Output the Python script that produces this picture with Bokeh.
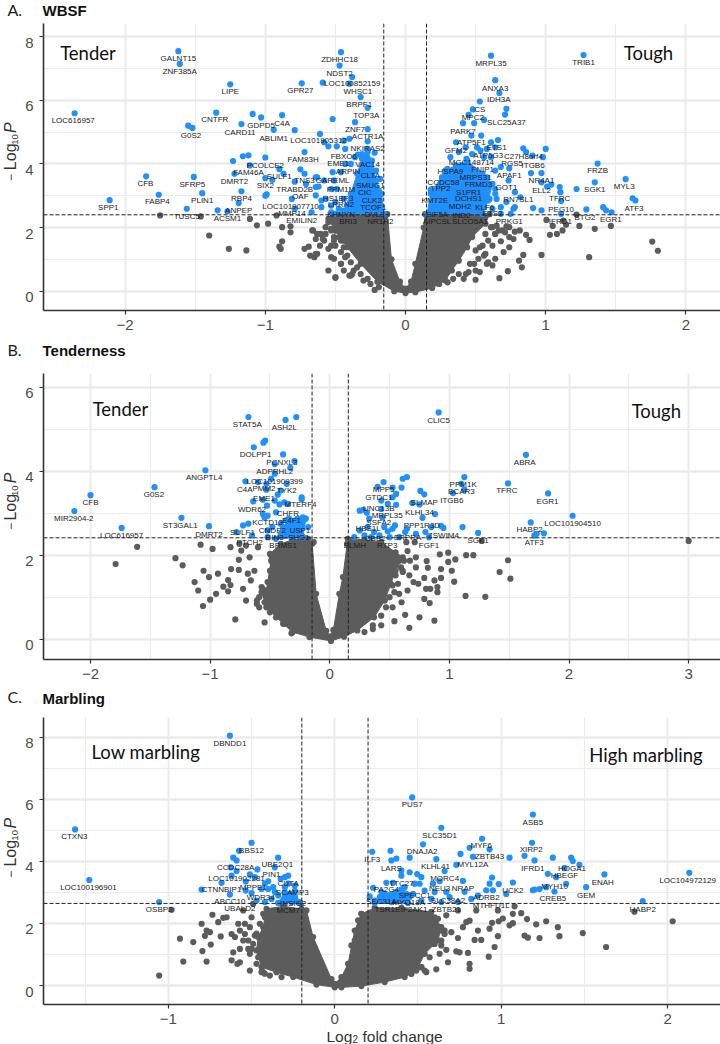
from math import pi
from bokeh.embed import file_html
from bokeh.resources import INLINE
from bokeh.layouts import column, row
from bokeh.models import ColumnDataSource, FixedTicker, LinearAxis, Range1d, Span
from bokeh.plotting import figure
from bokeh.core.properties import value

# ---------- Panel A: WBSF ----------
a_thresholds = dict(h=2.40, v=[-0.155, 0.15])
a_sides = [("Tender", -2.265, 7.47), ("Tough", 1.733, 7.47)]
a_blue = [(-1.62,7.54),(-1.61,7.14),(-1.25,6.50),(-2.36,5.59),(-1.35,5.61),(-1.55,5.20),(-1.52,5.13),(-1.17,5.25),(-1.09,5.57),(-1.03,5.46),
(-0.88,5.53),(-0.94,5.07),(-0.79,5.06),(-0.61,4.94),(-0.58,4.68),(-0.55,4.55),(-0.49,4.55),(-0.44,4.73),(-0.40,4.79),(-0.52,5.41),
(-0.74,6.53),(-0.59,6.55),(-0.46,7.51),(-0.47,7.09),(-0.38,6.73),(-0.40,6.52),(-0.32,6.10),(-0.27,5.76),(-0.36,5.31),(-0.27,5.09),
(-0.27,4.71),(-0.43,4.47),(-0.22,4.35),(-0.34,4.29),(-0.72,4.37),(-1.00,4.20),(-1.12,4.27),(-1.16,4.24),(-1.23,4.09),(-1.11,3.95),
(-1.22,3.69),(-1.51,3.59),(-1.85,3.61),(-1.76,3.03),(-1.45,3.08),(-2.11,2.86),(-1.56,2.59),(-1.34,2.54),(-1.27,2.51),(-1.19,2.77),
(-1.17,3.14),(-1.00,3.55),(-0.99,3.04),(-1.00,3.00),(-0.95,3.50),(-0.90,3.84),(-0.87,3.69),(-0.75,3.83),(-0.72,3.69),(-0.79,3.44),
(-0.71,3.37),(-0.64,3.58),(-0.62,3.29),(-0.64,3.01),(-0.60,2.85),(-0.81,2.90),(-0.79,2.59),(-0.67,2.48),(-0.60,2.64),
(-0.36,4.21),(-0.31,4.31),(-0.27,4.47),(-0.39,4.00),(-0.43,4.00),(-0.52,3.74),(-0.46,3.74),(-0.51,3.48),(-0.58,3.48),(-0.63,3.58),
(-0.64,3.27),(-0.53,3.21),(-0.49,3.21),(-0.57,2.90),(-0.50,2.80),(-0.44,2.90),(-0.53,2.69),(-0.475,2.59),(-0.53,2.48),(-0.415,2.69),
(-0.19,3.16),(-0.18,3.53),(-0.21,3.79),(-0.20,2.59),
(0.61,7.40),(1.27,7.42),(0.64,6.63),(0.67,6.23),(0.53,5.96),(0.72,5.73),(0.71,5.55),(0.48,5.71),(0.45,5.54),(0.56,5.38),(0.41,5.28),
(0.49,5.28),(0.47,4.89),(0.54,4.89),(0.66,4.75),(0.61,4.68),(0.36,4.68),(0.84,4.49),(1.00,4.47),(0.86,4.37),(0.905,4.26),(0.98,4.21),
(1.37,4.01),(1.57,3.52),(1.35,3.42),(1.62,2.92),(1.64,2.85),(0.74,3.86),(0.68,3.90),(0.895,3.71),(0.97,3.71),(0.97,3.42),(1.04,3.35),
(1.01,3.29),(1.10,3.27),(1.105,3.11),(1.22,3.21),(1.11,2.83),(0.91,2.61),(0.97,2.54),(1.11,2.43),(1.29,2.57),(1.41,2.64),(1.43,2.54),
(1.47,2.48),(0.78,2.64),(0.77,2.59),(0.75,2.43),(0.68,2.64),(0.64,3.21),(0.64,3.06),(0.58,3.11),(0.60,2.90),(0.56,2.64),(0.72,2.80),
(0.735,3.48),(0.78,3.11),(0.65,2.90),(0.82,2.95),(0.68,2.43),(0.62,2.59),(0.51,4.52),(0.535,4.42),(0.58,4.47),(0.64,4.52),(0.43,4.52),
(0.38,4.37),(0.32,4.21),(0.435,4.16),(0.475,4.31),(0.56,4.21),(0.61,4.21),(0.64,3.79),(0.58,3.58),(0.30,3.84),(0.26,3.58),(0.18,3.19),
(0.20,2.85),(0.155,2.43),(0.25,3.11)]
a_blue_mass = [[(-0.50,2.43),(-0.44,2.53),(-0.39,3.06),(-0.345,3.69),(-0.31,4.16),(-0.27,4.37),(-0.24,4.10),(-0.21,3.48),(-0.17,3.06),(-0.155,2.43)],
[(0.154,2.43),(0.18,3.06),(0.285,3.79),(0.36,3.95),(0.44,4.10),(0.55,3.69),(0.62,3.37),(0.59,2.85),(0.55,2.43)]]
a_gray = [(-1.75,2.38),(-1.46,2.35),(-1.40,1.75),(-1.26,1.33),(-1.135,1.28),(-1.11,2.27),(-1.06,2.07),(-0.98,2.12),(-0.92,2.38),(-0.88,2.01),
(-0.88,1.57),(-0.90,1.40),(-0.89,1.33),(-0.82,2.04),(-0.82,1.85),(-0.72,1.33),(-0.69,1.40),(-0.65,1.07),(-0.64,1.17),(-0.66,1.91),(-0.63,1.80),
(-0.59,1.64),(-0.57,1.80),(-0.53,1.07),(-0.50,0.42),(-0.40,0.49),(-0.38,0.54),(-0.22,0.04),(-0.61,1.43),(-0.55,1.33),(-0.53,1.96),(-0.51,1.59),
(-0.46,0.86),(-0.44,0.65),(-0.665,1.91),(-0.605,1.80),(-0.64,1.64),(-0.58,1.59),(-0.53,1.43),(-0.63,1.17),(-0.68,1.12),(-0.50,0.44),(-0.39,0.49),
(-0.55,0.65),(-0.51,1.02),(-0.46,0.86),(-0.46,1.59),(-0.44,1.38),(-0.43,1.07),(-0.37,0.65),(-0.30,0.335),
(1.005,2.24),(1.05,2.05),(1.03,1.77),(1.08,1.80),(1.12,1.91),(1.125,2.22),(1.145,2.09),(1.24,2.05),(1.22,2.41),(1.35,1.96),(1.465,2.05),
(0.97,1.14),(1.31,1.07),(1.76,1.56),(1.80,1.27),(0.83,0.75),(0.81,0.96),(0.84,1.14),(0.73,0.63),(0.67,0.41),(0.50,0.36),(0.415,0.39),(0.885,1.61),
(0.86,1.77),(0.815,1.91),(0.78,1.87),(0.77,1.64),(0.74,1.38),(0.74,2.01),(0.69,1.91),(0.72,2.03),(0.61,2.01),(0.64,1.80),(0.68,1.57),(0.62,1.43),
(0.53,1.38),(0.56,1.12),(0.70,1.23),(0.64,1.02),(0.58,0.86),(0.53,0.60),(0.45,0.60),(0.49,0.86),
(-0.55,2.17),(-0.57,2.01),(-0.53,1.91),(-0.51,1.70),(-0.475,1.70),(-0.44,1.59),(-0.50,1.43),(-0.46,1.23),(-0.415,1.12),(-0.39,0.91),(-0.345,0.75),(-0.32,0.54),(-0.27,0.39),(-0.25,0.23),(-0.19,0.13),
(0.62,2.01),(0.65,2.06),(0.665,1.91),(0.71,1.85),(0.74,1.70),(0.64,1.80),(0.57,1.80),(0.59,1.59),(0.55,1.43),(0.57,1.17),(0.50,1.28),(0.52,1.02),(0.46,0.86),(0.50,0.65),(0.43,0.54),(0.38,0.54),(0.34,0.39),(0.30,0.28),(0.24,0.23),(0.62,0.81),(0.59,0.91)]
a_gray_mass = [(0,-0.06),(-0.08,0.0),(-0.20,0.30),(-0.32,0.86),(-0.415,1.38),(-0.50,1.90),(-0.55,2.27),(-0.52,2.42),(-0.13,2.42),(-0.10,1.0),
(-0.04,0.3),(0,0.08),(0.04,0.3),(0.07,0.86),(0.13,2.0),(0.14,2.42),(0.60,2.42),(0.57,2.12),(0.475,1.70),(0.44,1.38),(0.38,0.96),(0.33,0.65),
(0.285,0.335),(0.19,0.10),(0.07,-0.03)]
a_genes = [("GALNT15",-1.62,7.32),("ZNF385A",-1.61,6.89),("LIPE",-1.25,6.26),("LOC616957",-2.37,5.35),("CNTFR",-1.36,5.39),("G0S2",-1.53,4.89),
("CARD11",-1.18,4.99),("GDPD5",-1.03,5.20),("C4A",-0.88,5.28),("ABLIM1",-0.94,4.81),("LOC101905312",-0.62,4.72),("GPR27",-0.75,6.30),
("ZDHHC18",-0.47,7.28),("NDST2",-0.47,6.84),("LOC100852159",-0.38,6.52),("WHSC1",-0.34,6.28),("BRPF1",-0.33,5.88),("TOP3A",-0.28,5.52),
("ZNF7",-0.36,5.07),("ACTR1A",-0.27,4.86),("NKIRAS2",-0.27,4.48),("FBXO6",-0.44,4.23),("FAM83H",-0.73,4.14),("EME1",-0.48,4.01),("VAC14",-0.27,3.98),
("PCOLCE2",-1.00,3.95),("ARPIN",-0.41,3.76),("FAM46A",-1.12,3.72),("SULF1",-0.90,3.59),("CLTA",-0.25,3.64),("DMRT2",-1.22,3.46),("GAREML",-0.52,3.48),
("TNS3",-0.72,3.47),("SFRP5",-1.52,3.34),("CFB",-1.855,3.37),("SIX2",-1.00,3.31),("SMUG1",-0.25,3.32),("TRABD2B",-0.79,3.20),("PPM1M",-0.46,3.20),
("CIC",-0.29,3.09),("OAF",-0.75,2.99),("HS1BP3",-0.48,2.92),("PLIN1",-1.45,2.84),("FABP4",-1.77,2.81),("RBP4",-1.17,2.90),("CLK2",-0.24,2.85),
("LRRN2",-0.46,2.71),("TCOF1",-0.23,2.63),("LOC101907710",-0.82,2.67),("SPP1",-2.12,2.62),("ANPEP",-1.19,2.55),("MMP14",-0.81,2.45),("DVL3",-0.22,2.41),
("KHNYN",-0.46,2.41),("TUSC5",-1.56,2.34),("ACSM1",-1.27,2.29),("EMILIN2",-0.74,2.22),("BRI3",-0.41,2.18),("NR1H2",-0.18,2.18),
("MRPL35",0.61,7.15),("TRIB1",1.27,7.17),("ANXA3",0.64,6.38),("IDH3A",0.665,6.01),("CS",0.53,5.71),("MPC2",0.48,5.47),("SLC25A37",0.72,5.31),
("PARK7",0.41,5.03),("ATP5F1",0.47,4.67),("ETS1",0.65,4.52),("GFM2",0.36,4.42),("ATP5G3",0.59,4.25),("C27H8orf4",0.84,4.23),("RGS5",0.76,4.02),
("ITGB6",0.91,3.95),("MGC148714",0.47,4.04),("FNIP1",0.55,3.81),("HSPA9",0.32,3.77),("APAF1",0.74,3.62),("MRPS31",0.50,3.56),("NR4A1",0.97,3.48),
("CCDC58",0.27,3.43),("FRMD3",0.52,3.34),("TPP2",0.25,3.24),("GOT1",0.72,3.26),("ELL2",0.97,3.17),("SGK1",1.35,3.20),("FRZB",1.37,3.78),("MYL3",1.56,3.28),
("S1PR1",0.45,3.11),("TFRC",1.10,2.90),("RN7SL1",0.805,2.89),("DCHS1",0.45,2.91),("KMT2E",0.21,2.85),("MDH2",0.39,2.65),("KLF6",0.565,2.62),("ATF3",1.63,2.59),
("PEG10",1.11,2.57),("EIF5A",0.225,2.42),("ETS2",0.62,2.43),("IND2",0.40,2.38),("BTG2",1.28,2.32),("EGR1",1.465,2.25),("PRKG1",0.74,2.18),("IFRD1",1.105,2.18),
("AIPCSL",0.225,2.18),("SLCO5A1",0.46,2.18)]

# ---------- Panel B: Tenderness ----------
b_thresholds = dict(h=2.414, v=[-0.148, 0.155])
b_sides = [("Tender", -1.75, 5.49), ("Tough", 2.73, 5.44)]
b_blue = [(-0.68,5.29),(-0.37,5.22),(-0.28,5.29),(-0.54,4.73),(-0.555,4.68),(-0.635,4.57),(-0.39,4.40),(-0.46,4.17),(-0.295,4.24),(-0.33,4.08),(-1.04,4.02),
(-0.46,3.94),(-0.49,3.82),(-0.705,3.76),(-0.60,3.74),(-0.53,3.70),(-0.36,3.70),(-1.465,3.62),(-2.00,3.43),(-0.53,3.56),(-0.435,3.44),(-0.41,3.54),(-0.235,3.38),
(-0.235,3.33),(-0.56,3.32),(-0.64,3.28),(-0.46,3.30),(-0.38,3.26),(-0.35,3.22),(-0.42,3.21),(-0.525,3.18),(-2.135,3.05),(-0.56,2.98),(-0.52,2.94),(-0.545,2.90),
(-0.45,3.02),(-0.225,2.90),(-0.21,2.87),(-0.24,2.79),(-1.24,2.89),(-0.68,2.75),(-0.725,2.71),(-1.01,2.69),(-1.74,2.65),(-0.65,2.47),(-0.78,2.55),(-0.52,2.59),
(-0.48,2.67),(-0.41,2.75),(-0.365,2.83),(-0.295,2.59),(-0.27,2.71),(-0.52,2.43),(-0.41,2.51),(-0.31,2.43),(-0.225,2.43),(-0.18,2.67),
(0.91,5.40),(1.64,4.39),(0.645,3.86),(0.61,3.82),(1.125,3.86),(0.45,3.74),(0.40,3.63),(0.60,3.61),(0.525,3.61),(0.757,3.53),(0.79,3.45),(0.555,3.46),(1.10,3.70),
(1.125,3.56),(1.03,3.48),(1.49,3.71),(1.825,3.47),(0.69,3.24),(0.75,3.21),(0.525,3.38),(0.555,3.20),(0.43,3.30),(0.485,3.22),(0.25,3.06),(0.28,3.08),(0.31,3.01),
(0.43,3.10),(0.88,2.98),(0.775,2.89),(2.03,2.94),(1.68,2.78),(1.11,2.67),(0.93,2.70),(0.95,2.65),(0.85,2.67),(0.80,2.55),(1.24,2.53),(1.79,2.52),(1.73,2.51),(1.71,2.47),
(0.83,2.43),(0.72,2.51),(0.645,2.63),(0.63,2.55),(0.545,2.71),(0.525,2.63),(0.485,2.57),(0.415,2.47),(0.33,2.87),(0.455,2.67),(0.37,2.55),(0.29,2.47),(0.25,2.59),
(0.205,2.43),(0.345,2.43),(0.50,2.43),(0.58,2.43),(0.44,2.90),(0.315,2.67)]
b_blue_mass = [[(-0.45,2.39),(-0.39,2.67),(-0.34,2.87),(-0.27,2.87),(-0.20,2.87),(-0.225,2.43)]]
b_gray = [(-1.61,2.20),(-1.79,1.79),(-1.29,1.93),(-1.23,1.76),(-1.08,2.25),(-0.98,2.15),(-1.13,1.36),(-1.10,1.16),(-1.055,1.63),(-1.01,1.48),(-0.935,1.56),(-1.06,0.79),
(-1.00,0.94),(-0.95,1.08),(-0.89,1.25),(-0.85,1.41),(-0.83,1.29),(-0.85,1.14),(-0.825,1.67),(-0.83,2.19),(-0.79,0.47),(-0.70,0.92),(-0.725,1.20),(-0.76,1.89),(-0.76,1.65),
(-0.685,1.56),(-0.66,1.40),(-0.545,0.40),(-0.32,0.14),(-0.61,0.92),(-0.59,0.76),(-0.74,2.11),(-0.67,1.95),(-0.60,2.19),(-0.63,1.63),(-0.57,1.24),(-0.755,2.27),(-0.70,2.23),(-0.135,2.31),
(3.00,2.34),(1.49,1.88),(1.42,1.60),(1.51,1.44),(1.30,1.01),(1.135,1.03),(1.20,2.00),(1.14,2.00),(1.05,1.90),(0.99,2.06),(0.99,1.84),(0.92,2.02),(1.02,1.63),(1.04,1.37),(0.93,1.67),
(0.93,1.46),(0.875,1.40),(0.90,1.24),(0.90,1.12),(0.84,1.20),(0.805,1.20),(0.875,0.44),(0.75,0.52),(0.665,0.27),(0.835,0.86),(0.79,0.96),(0.63,0.58),(0.54,0.43),(0.43,0.33),(0.36,0.24),
(0.81,1.86),(0.82,1.70),(0.79,1.46),(0.74,1.32),(0.70,1.36),(0.665,1.52),(0.72,1.95),(0.67,1.87),(0.65,2.10),(0.61,1.63),(0.65,1.16),(0.60,0.88),(0.58,1.08),(0.525,0.76),(0.72,1.71),(0.64,2.31),(0.71,2.31),(1.27,2.34),
(-0.49,1.99),(-0.45,1.95),(-0.475,1.79),(-0.50,1.63),(-0.45,1.52),(-0.52,1.36),(-0.56,1.20),(-0.59,1.00),(-0.545,0.88),(-0.50,0.64),(-0.45,0.52),(-0.38,0.365),(-0.31,0.21),(-0.61,0.84),
(0.58,1.87),(0.62,1.87),(0.595,1.71),(0.55,1.52),(0.525,1.28),(0.54,1.12),(0.50,1.00),(0.47,0.76),(0.43,0.56),(0.36,0.33),(0.29,0.17),(0.61,1.60),(0.57,1.32)]
b_gray_mass = [(0.01,-0.04),(-0.17,0.05),(-0.31,0.17),(-0.39,0.365),(-0.53,0.76),(-0.57,1.12),(-0.53,1.16),(-0.49,1.87),(-0.50,2.03),(-0.41,2.27),(-0.31,2.37),(-0.18,2.39),(-0.147,2.27),
(-0.114,1.08),(-0.03,0.20),(0.0,0.07),(0.03,0.22),(0.08,1.08),(0.11,1.48),(0.145,2.27),(0.15,2.39),(0.29,2.37),(0.43,2.31),(0.55,2.07),(0.61,1.95),(0.55,1.63),(0.51,1.32),(0.46,0.92),(0.37,0.52),(0.23,0.21),(0.12,0.06)]
b_genes = [("STAT5A",-0.69,5.12),("ASH2L",-0.38,5.05),("DOLPP1",-0.62,4.40),("PCNXL3",-0.40,4.21),("ADPRHL2",-0.46,3.99),("ANGPTL4",-1.05,3.84),("LOC101909399",-0.46,3.76),
("C4A",-0.71,3.56),("PMM2",-0.55,3.60),("TYK2",-0.36,3.53),("G0S2",-1.47,3.44),("CFB",-2.00,3.25),("EME1",-0.55,3.34),("MTERF4",-0.245,3.21),("WDR62",-0.65,3.10),("MIR2904-2",-2.14,2.87),
("CHFR",-0.35,3.00),("E4F1",-0.32,2.82),("KCTD13",-0.52,2.77),("ST3GAL1",-1.25,2.71),("CNDP2",-0.48,2.60),("USP1",-0.25,2.60),("DMRT2",-1.01,2.50),("LOC616957",-1.74,2.48),("SULF1",-0.73,2.54),
("BIN3",-0.46,2.41),("SHC1",-0.26,2.41),("PTCH2",-0.67,2.31),("BRMS1",-0.39,2.24),
("BLMH",0.21,2.24),("CLIC5",0.91,5.21),("ABRA",1.63,4.20),("PPM1K",1.115,3.69),("BCAR3",1.10,3.52),("TFRC",1.48,3.55),("ITGB6",1.02,3.30),("EGR1",1.82,3.29),("MPP5",0.45,3.57),("GTDC1",0.41,3.38),
("SLMAP",0.79,3.26),("UNC13B",0.41,3.12),("KLHL34",0.75,3.02),("MRPL35",0.48,2.94),("SSFA2",0.41,2.79),("PPP1R3D",0.77,2.70),("LOC101904510",2.03,2.75),("HBS1L",0.32,2.63),("HABP2",1.67,2.61),
("ZSWIM4",0.95,2.47),("SRPRA",0.65,2.43),("CBB2",0.38,2.39),("SGK1",1.24,2.35),("ATF3",1.71,2.31),("FGF1",0.83,2.24),("RTP3",0.48,2.24)]

# ---------- Panel C: Marbling ----------
c_thresholds = dict(h=2.645, v=[-0.198, 0.20])
c_sides = [("Low marbling", -1.135, 7.51), ("High marbling", 1.87, 7.44)]
c_blue = [(-0.63,8.05),(-1.56,5.03),(-1.475,3.40),(-1.055,2.69),(-0.50,4.60),(-0.575,4.34),(-0.61,4.12),(-0.59,4.03),(-0.34,4.12),(-0.465,3.74),(-0.59,3.69),(-0.625,3.81),(-0.62,3.54),(-0.68,3.31),
(-0.80,3.09),(-0.63,2.93),(-0.51,3.58),(-0.48,3.49),(-0.535,3.35),(-0.535,3.06),(-0.50,2.98),(-0.42,3.28),(-0.40,3.36),(-0.44,3.11),(-0.36,3.81),(-0.325,3.44),(-0.30,3.49),(-0.28,3.54),(-0.30,3.17),
(-0.24,3.22),(-0.28,3.28),(-0.36,3.01),(-0.34,2.90),(-0.42,2.69),(-0.38,2.79),(-0.28,2.85),(-0.24,2.85),(-0.32,2.69),(-0.26,2.69),(-0.21,2.69),(-0.40,3.11),(-0.47,2.74),(-0.37,3.17),(-0.30,2.85),
(0.465,6.06),(0.64,5.08),(1.19,5.51),(0.53,4.55),(0.225,4.31),(0.335,4.34),(0.37,4.09),(0.34,4.03),(0.45,4.12),(0.61,4.07),(0.755,4.24),(0.81,4.44),(0.885,4.73),(0.93,4.39),(0.83,4.15),(0.73,3.89),
(0.66,3.69),(1.185,4.60),(1.14,4.18),(1.05,4.12),(1.20,4.03),(1.31,4.12),(1.42,4.12),(1.43,4.01),(1.47,3.89),(1.38,3.78),(1.28,3.60),(1.33,3.49),(1.39,3.28),(1.62,3.58),(1.51,3.17),(2.13,3.63),(1.85,2.72),
(1.07,3.32),(0.985,3.27),(0.945,3.48),(0.93,3.28),(0.91,3.07),(0.95,3.07),(1.03,2.95),(1.19,3.07),(1.20,3.09),(1.23,3.11),(1.27,3.17),(1.32,3.03),(0.77,3.37),(0.78,3.02),(0.63,3.36),(0.52,3.49),(0.495,3.59),
(0.45,3.65),(0.40,3.71),(0.40,3.54),(0.31,3.31),(0.35,3.31),(0.23,3.15),(0.28,3.01),(0.21,2.87),(0.24,2.74),(0.32,2.85),(0.37,3.01),(0.42,3.17),(0.48,3.28),(0.51,3.28),(0.54,3.06),(0.59,3.28),(0.60,3.01),
(0.67,3.01),(0.69,2.85),(0.58,2.79),(0.86,2.90),(0.82,2.79),(0.74,2.69),(0.38,2.74),(0.45,2.85),(0.52,2.74),(0.64,2.69),(0.30,2.74),(0.34,2.69),(0.27,2.85)]
c_blue_mass = [[(-0.34,2.66),(-0.30,3.00),(-0.24,3.05),(-0.21,2.66)],[(0.24,2.66),(0.30,2.95),(0.40,3.10),(0.47,2.95),(0.44,2.66)]]
c_gray = [(-1.055,0.32),(-0.93,1.51),(-0.91,0.77),(-0.85,1.40),(-0.795,1.11),(-0.77,0.77),(-0.745,1.32),(-0.685,1.58),(-0.78,1.60),(-0.80,1.99),(-0.735,2.28),(-0.77,1.77),(-0.75,1.72),(-0.70,2.04),(-0.67,2.18),
(-0.65,2.20),(-0.62,1.66),(-0.58,1.99),(-0.54,1.99),(-0.51,1.88),(-0.62,0.81),(-0.585,0.70),(-0.57,0.75),(-0.61,1.07),(-0.57,1.18),(-0.52,1.18),(-0.55,1.45),(-0.60,1.56),(-0.51,0.48),(-0.44,0.43),(-0.98,2.44),
(-0.55,2.42),(-0.49,2.63),(-0.50,2.20),(-0.54,1.66),(-0.57,1.77),(-0.48,1.61),(-0.42,0.38),
(2.03,2.07),(1.63,1.24),(1.49,1.69),(1.35,1.59),(1.23,1.53),(1.34,1.88),(1.27,2.07),(1.21,1.97),(1.155,2.14),(1.12,2.33),(1.07,2.31),(1.08,2.55),(1.05,1.94),(1.07,2.01),(1.01,2.16),(0.98,2.42),(0.985,2.07),
(0.945,2.02),(0.93,1.83),(0.98,1.59),(0.96,1.24),(0.925,0.93),(1.14,1.61),(1.16,1.54),(0.81,0.70),(0.81,0.54),(0.80,1.05),(0.75,1.07),(0.73,1.10),(0.67,1.15),(0.64,1.29),(0.61,0.52),(0.55,0.43),(0.46,0.38),
(0.52,0.59),(0.70,1.72),(0.74,1.53),(0.77,1.88),(0.79,2.04),(0.86,1.77),(0.84,1.47),(0.88,1.47),(0.81,2.09),(0.67,2.26),(0.66,1.66),(0.60,1.88),(0.64,1.77),(0.57,1.66),(0.58,1.34),(0.63,1.02),(0.68,0.75),
(1.80,2.38),(0.85,2.42),(0.74,2.42),(0.62,2.15),
(-0.43,2.31),(-0.45,1.99),(-0.47,1.67),(-0.49,1.34),(-0.51,1.02),(-0.47,0.70),(-0.43,0.43),(-0.39,0.32),(-0.32,0.27),(-0.50,1.18),(-0.46,0.91),(-0.52,1.45),
(0.60,2.20),(0.63,1.88),(0.66,1.77),(0.60,1.34),(0.57,0.91),(0.52,0.59),(0.46,0.38),(0.64,1.45),(0.54,0.48),(0.12,1.45),(0.10,1.29),(0.14,2.10),(0.16,2.31)]
c_gray_mass = [(0,-0.06),(-0.11,0.03),(-0.25,0.27),(-0.35,0.43),(-0.44,0.59),(-0.47,1.13),(-0.46,1.56),(-0.43,1.88),(-0.42,2.20),(-0.41,2.47),(-0.31,2.55),(-0.20,2.47),(-0.17,2.42),(-0.13,1.56),(-0.02,0.21),(0.0,0.05),
(0.04,0.27),(0.08,0.70),(0.12,1.77),(0.16,2.31),(0.24,2.50),(0.40,2.50),(0.58,2.37),(0.64,1.88),(0.62,1.45),(0.54,1.02),(0.49,0.48),(0.42,0.27),(0.30,0.11),(0.16,-0.02),(0.04,-0.06)]
c_genes = [("DBNDD1",-0.63,7.81),("CTXN3",-1.565,4.80),("BBS12",-0.50,4.35),("UBE2Q1",-0.345,3.89),("CCDC28A",-0.595,3.80),("PIN1",-0.38,3.59),("LOC101902281",-0.59,3.44),("CUTA",-0.28,3.28),("MPPE1",-0.49,3.16),
("LOC100196901",-1.48,3.17),("CTNNBIP1",-0.68,3.08),("SCAMP3",-0.255,3.00),("WDR34",-0.445,2.82),("ABCC10",-0.63,2.72),("INSIG2",-0.25,2.65),("OSBP2",-1.055,2.44),("UBALD2",-0.57,2.48),("MCM7",-0.28,2.42),
("ILF3",0.225,4.06),("LARS",0.34,3.78),("PUS7",0.465,5.83),("SLC35D1",0.63,4.83),("DNAJA2",0.525,4.31),("KLHL41",0.605,3.85),("MYF6",0.88,4.50),("ZBTB43",0.93,4.16),("MYL12A",0.83,3.91),("ASB5",1.19,5.26),("XIRP2",1.18,4.37),
("IFRD1",1.19,3.78),("HOGA1",1.425,3.77),("HBEGF",1.38,3.56),("MYH10",1.32,3.19),("ENAH",1.61,3.32),("GEM",1.51,2.91),("CREB5",1.31,2.79),("LOC104972129",2.12,3.38),("HABP2",1.85,2.46),("UCK2",1.07,3.06),("ADRB2",0.91,2.84),
("MTHFD1L",0.94,2.58),("NRAP",0.77,3.13),("MORC4",0.66,3.44),("NEU3",0.63,3.11),("TTC27",0.40,3.30),("PA2G4",0.31,3.08),("SPECC1",0.48,2.89),("SEC31A",0.28,2.72),("MYO18A",0.445,2.66),("SLC38A2",0.68,2.73),("TSR1",0.30,2.45),
("EIF2AK1",0.46,2.45),("ZBTB21",0.67,2.46)]

GRAY, BLUE, INK = "#5c5c5c", "#1e90ff", "#333333"
SANS = "Liberation Sans"
LEFT_STRIP = 22


def text_strip(width, height, page_left, page_top, items):
    """A bare figure whose frame is a strip of the page, for texts outside a panel's frame."""
    s = figure(width=width, height=height, output_backend="svg", toolbar_location=None,
               x_range=Range1d(page_left, page_left + width), y_range=Range1d(page_top + height, page_top),
               min_border=0, outline_line_color=None)
    s.xaxis.visible = False
    s.yaxis.visible = False
    s.grid.visible = False
    for txt, x, y, font, size, style, angle, color, align in items:
        s.text([x], [y], text=[txt], text_font=value(font), text_font_size=size, text_font_style=style,
               text_color=color, angle=angle, text_align=align, text_baseline="middle")
    return s


def panel(fig_top, fig_bottom, frame, org, scale, xticks, xminor, yticks, yminor,
          blue, blue_mass, gray, gray_mass, genes, sides, thr, tag, title, ylab_y):
    left, top, bottom = frame
    right = 720
    x0, y0 = org
    ux, uy = scale
    xr = Range1d((left - x0) / ux, (right - x0) / ux)
    yr = Range1d((y0 - bottom) / uy, (y0 - top) / uy)
    p = figure(width=right - LEFT_STRIP, height=fig_bottom - top, x_range=xr, y_range=yr, output_backend="svg",
               toolbar_location=None, min_border_left=left - LEFT_STRIP, min_border_right=0,
               min_border_top=0, min_border_bottom=fig_bottom - bottom,
               outline_line_color=None, background_fill_color="white")

    # Axes: the y labels sit a little under their ticks, as in the source image.
    p.xaxis.ticker = FixedTicker(ticks=xticks, minor_ticks=xminor)
    p.yaxis.ticker = FixedTicker(ticks=yticks, minor_ticks=yminor)
    for ax in (p.xaxis[0], p.yaxis[0]):
        ax.axis_line_color = INK
        ax.axis_line_width = 1.6
        ax.major_tick_line_color = INK
        ax.major_tick_line_width = 1.2
        ax.major_tick_in = 0
        ax.major_tick_out = 4
        ax.minor_tick_line_color = None
    p.xaxis.major_label_text_font = SANS
    p.xaxis.major_label_text_font_size = "15px"
    p.xaxis.major_label_text_color = "#4d4d4d"
    p.xaxis.major_label_standoff = 5
    p.yaxis.major_label_text_color = None
    p.yaxis.major_label_standoff = 0
    dy = 6 / uy
    p.extra_y_ranges = {"ylabels": Range1d(yr.start + dy, yr.end + dy)}
    lab_axis = LinearAxis(y_range_name="ylabels", ticker=FixedTicker(ticks=yticks),
                          axis_line_color=None, major_tick_line_color=None,
                          minor_tick_line_color=None, major_tick_in=0, major_tick_out=0,
                          major_label_standoff=6, major_label_text_font=SANS,
                          major_label_text_font_size="15px", major_label_text_color="#4d4d4d")
    p.add_layout(lab_axis, "left")

    p.xgrid.grid_line_color = "#ebebeb"
    p.xgrid.grid_line_width = 2
    p.xgrid.minor_grid_line_color = "#ebebeb"
    p.xgrid.minor_grid_line_width = 1
    p.ygrid.grid_line_color = "#ebebeb"
    p.ygrid.grid_line_width = 2.4
    p.ygrid.minor_grid_line_color = "#ebebeb"
    p.ygrid.minor_grid_line_width = 1

    # Dense cloud (silhouette) and its separately readable points.
    gm = list(gray_mass)
    p.patch([q[0] for q in gm], [q[1] for q in gm], color=GRAY, line_width=1)
    p.scatter([q[0] for q in gm + gray], [q[1] for q in gm + gray], size=6.2, color=GRAY, line_color=None)
    for mass in blue_mass:
        p.patch([q[0] for q in mass], [q[1] for q in mass], color=BLUE, line_width=1)
        p.scatter([q[0] for q in mass], [q[1] for q in mass], size=6.2, color=BLUE, line_color=None)
    p.scatter([q[0] for q in blue], [q[1] for q in blue], size=6.2, color=BLUE, line_color=None)

    p.add_layout(Span(location=thr["h"], dimension="width", line_color="#222222", line_dash="4 2", line_width=1))
    for v in thr["v"]:
        p.add_layout(Span(location=v, dimension="height", line_color="#222222", line_dash="4 2", line_width=1))

    gs = ColumnDataSource(dict(t=[g[0] for g in genes], x=[g[1] for g in genes], y=[g[2] for g in genes]))
    p.text("x", "y", text="t", source=gs, text_font=value(SANS), text_font_size="8px",
           text_color="#1a1a1a", text_align="center", text_baseline="middle")
    ss = ColumnDataSource(dict(t=[s[0] for s in sides], x=[s[1] for s in sides], y=[s[2] for s in sides]))
    p.text("x", "y", text="t", source=ss, text_font=value("Lato"), text_font_size="18.5px",
           text_color="#111111", text_align="center", text_baseline="middle")

    # Strip above the frame: panel tag and bold title
    head = text_strip(right, top - fig_top, 0, fig_top, [
        (tag, 7, title[1], "Lato", "16px", "normal", 0, "#222222", "left"),
        (title[0], 42, title[2], SANS, "15px", "bold", 0, "#111111", "left")])
    # Strip left of the panel: y-axis title pieces (minus, Log, subscript 10, italic P)
    side = text_strip(LEFT_STRIP, fig_bottom - top, 0, top, [
        ("\u2212", 10, ylab_y[0], SANS, "12px", "normal", pi / 2, INK, "left"),
        ("Log", 10, ylab_y[1], SANS, "16px", "normal", pi / 2, INK, "left"),
        ("10", 14, ylab_y[2], SANS, "9.5px", "normal", pi / 2, INK, "left"),
        ("P", 10, ylab_y[3], SANS, "16px", "italic", pi / 2, INK, "left")])
    return column(head, row(side, p, spacing=0), spacing=0)


block_a = panel(0, 340, (43, 23, 310), (405, 290.7), (140.2, 31.83), [-2, -1, 0, 1, 2], [-1.5, -0.5, 0.5, 1.5], [0, 2, 4, 6, 8], [1, 3, 5, 7],
                a_blue, a_blue_mass, a_gray, a_gray_mass, a_genes, a_sides, a_thresholds, "A.", ("WBSF", 9, 10), (197, 185, 157, 144))
block_b = panel(340, 688, (42, 373, 659), (328.7, 638.7), (119.8, 42.0), [-2, -1, 0, 1, 2, 3], [-1.5, -0.5, 0.5, 1.5, 2.5], [0, 2, 4, 6], [1, 3, 5],
                b_blue, b_blue_mass, b_gray, b_gray_mass, b_genes, b_sides, b_thresholds, "B.", ("Tenderness", 349, 350), (545, 535, 508, 494))
block_c = panel(688, 1027, (42, 717, 1004), (333.7, 985.0), (166.7, 31.03), [-1, 0, 1, 2], [-1.5, -0.5, 0.5, 1.5], [0, 2, 4, 6, 8], [1, 3, 5, 7],
                c_blue, c_blue_mass, c_gray, c_gray_mass, c_genes, c_sides, c_thresholds, "C.", ("Marbling", 696, 698), (890, 878, 850, 837))

# Strip under the bottom panel: x-axis title
foot = text_strip(720, 17, 0, 1027, [
    ("Log", 326, 1035.5, SANS, "15.5px", "normal", 0, INK, "left"),
    ("2", 352, 1038, SANS, "10px", "normal", 0, INK, "left"),
    ("fold change", 362, 1035.5, SANS, "15.5px", "normal", 0, INK, "left")])

root = column(block_a, block_b, block_c, foot, spacing=0)
open("out.html", "w").write(file_html(root, INLINE))
